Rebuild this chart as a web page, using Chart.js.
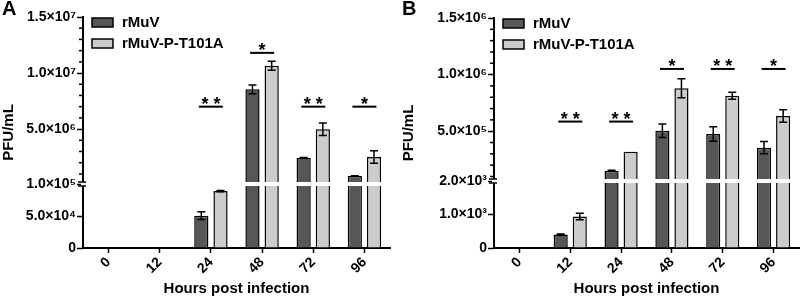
<!DOCTYPE html>
<html lang="en">
<head>
  <meta charset="UTF-8">
  <title>rMuV vs rMuV-P-T101A growth</title>
  <script src="https://cdn.jsdelivr.net/npm/chart.js"></script>
  <style>
    body { margin: 0; background: #fff; }
    .wrap { display: flex; width: 800px; height: 300px; }
    .panel { position: relative; width: 400px; height: 300px; }
  </style>
</head>
<body>
  <div class="wrap">
    <div class="panel"><canvas id="chartA" width="400" height="300"></canvas></div>
    <div class="panel"><canvas id="chartB" width="400" height="300"></canvas></div>
  </div>

  <script>
    // ---- data ----
    const hours = ['0', '12', '24', '48', '72', '96'];
    const seriesNames = ['rMuV', 'rMuV-P-T101A'];

    // panel A
    const aWt     = [0, 0, 5.05e4, 8.55e6, 2.42e6, 8.1e5];
    const aWtErr  = [0, 0, 6e3, 3.9e5, 5e4, 2e4];
    const aMut    = [0, 0, 8.9e4, 1.066e7, 4.98e6, 2.51e6];
    const aMutErr = [0, 0, 1e3, 4e5, 5.6e5, 5.6e5];
    const aSigY   = [null, null, 7.0e6, 1.18e7, 7.0e6, 7.0e6];
    const aSig    = ['', '', '**', '*', '**', '*'];
    const aLowTicks  = [0, 5e4, 1e5];
    const aLowLabels = ['0', '5.0×10⁴', '1.0×10⁵'];
    const aHighTicks  = [5e6, 1e7, 1.5e7];
    const aHighLabels = ['5.0×10⁶', '1.0×10⁷', '1.5×10⁷'];
    const aHighMinor  = [1e6, 2e6, 3e6, 4e6, 6e6, 7e6, 8e6, 9e6, 1.1e7, 1.2e7, 1.3e7, 1.4e7];

    // panel B
    const bWt     = [0, 4e2, 1.51e5, 5.04e5, 4.75e5, 3.54e5];
    const bWtErr  = [0, 20, 4e3, 5.9e4, 6.4e4, 5.4e4];
    const bMut    = [0, 9.4e2, 3.19e5, 8.79e5, 8.14e5, 6.34e5];
    const bMutErr = [0, 1e2, 0, 8.4e4, 3.1e4, 5.6e4];
    const bSigY   = [null, 5.85e5, 5.85e5, 1.05e6, 1.05e6, 1.05e6];
    const bSig    = ['', '**', '**', '*', '**', '*'];
    const bLowTicks  = [0, 1e3, 2e3];
    const bLowLabels = ['0', '1.0×10³', '2.0×10³'];
    const bHighTicks  = [5e5, 1e6, 1.5e6];
    const bHighLabels = ['5.0×10⁵', '1.0×10⁶', '1.5×10⁶'];
    const bHighMinor  = [1e5, 2e5, 3e5, 4e5, 6e5, 7e5, 8e5, 9e5, 1.1e6, 1.2e6, 1.3e6, 1.4e6];

    const FONT = "'Liberation Sans', Arial, sans-serif";
    const DARK = '#575757';
    const LIGHT = '#cccccc';

    function buildPanel(id, p) {
      const lowPart = v => (v > 0 ? Math.min(v, p.lowMax) : null);
      const highPart = v => (v > p.lowMax ? v : null);
      const barStyle = { borderColor: '#000', borderWidth: 1.5, barPercentage: 0.74, categoryPercentage: 0.75 };

      // extra drawing: axis break, minor ticks, error bars, significance, legend, titles
      const extras = {
        id: 'extras' + id,
        afterDraw(chart) {
          const { ctx, chartArea: ca, scales: { x, yLow, yHigh } } = chart;
          const by = yLow.top;
          ctx.save();

          // minor ticks on the upper segment
          ctx.strokeStyle = '#000';
          ctx.lineWidth = 1.5;
          p.highMinor.forEach(v => {
            const yy = yHigh.getPixelForValue(v);
            ctx.beginPath(); ctx.moveTo(ca.left - 4, yy); ctx.lineTo(ca.left, yy); ctx.stroke();
          });

          // break stripe
          ctx.fillStyle = '#fff';
          ctx.fillRect(ca.left - 2, by - 2, ca.right - ca.left + 2, 4);
          [by - 2, by + 2].forEach(yy => {
            ctx.beginPath(); ctx.moveTo(ca.left - 5, yy); ctx.lineTo(ca.left + 3, yy); ctx.stroke();
          });

          // error bars
          const series = [[p.wt, p.wtErr], [p.mut, p.mutErr]];
          series.forEach(([vals, errs], s) => {
            vals.forEach((v, i) => {
              if (!v || !errs[i]) return;
              const high = v > p.lowMax;
              const sc = high ? yHigh : yLow;
              const bar = chart.getDatasetMeta((high ? 2 : 0) + s).data[i];
              const y1 = sc.getPixelForValue(v + errs[i]);
              const y2 = sc.getPixelForValue(v - errs[i]);
              ctx.beginPath();
              ctx.moveTo(bar.x, y1); ctx.lineTo(bar.x, y2);
              ctx.moveTo(bar.x - 4, y1); ctx.lineTo(bar.x + 4, y1);
              ctx.moveTo(bar.x - 4, y2); ctx.lineTo(bar.x + 4, y2);
              ctx.stroke();
            });
          });

          // significance lines and stars
          ctx.fillStyle = '#000';
          ctx.font = 'bold 18px ' + FONT;
          ctx.textAlign = 'center';
          ctx.textBaseline = 'alphabetic';
          p.sigY.forEach((v, i) => {
            if (v === null) return;
            const yy = yHigh.getPixelForValue(v);
            const cx = x.getPixelForValue(i);
            ctx.lineWidth = 2;
            ctx.beginPath(); ctx.moveTo(cx - 12, yy); ctx.lineTo(cx + 12, yy); ctx.stroke();
            ctx.fillText(p.sig[i].split('').join(' '), cx, yy + 3);
          });

          // legend
          ctx.font = 'bold 15px ' + FONT;
          ctx.lineWidth = 1.5;
          ctx.textAlign = 'left';
          ctx.textBaseline = 'middle';
          [DARK, LIGHT].forEach((col, k) => {
            const bx = ca.left + 9, byy = ca.top + 1 + k * 21;
            ctx.fillStyle = col;
            ctx.fillRect(bx, byy, 21, 9);
            ctx.strokeRect(bx, byy, 21, 9);
            ctx.fillStyle = '#000';
            ctx.fillText(seriesNames[k], bx + 30, byy + 5);
          });

          // y title
          ctx.save();
          ctx.translate(9, (ca.top + ca.bottom) / 2);
          ctx.rotate(-Math.PI / 2);
          ctx.textAlign = 'center';
          ctx.fillText('PFU/mL', 0, 0);
          ctx.restore();

          // panel letter
          ctx.font = 'bold 20px ' + FONT;
          ctx.textAlign = 'left';
          ctx.textBaseline = 'top';
          ctx.fillText(p.letter, 2, -1);
          ctx.restore();
        }
      };

      const yCommon = {
        type: 'linear',
        position: 'left',
        stack: 'y',
        stacked: false,
        grid: { drawOnChartArea: false, tickLength: 6, tickWidth: 1.5, tickColor: '#000' },
        border: { color: '#000', width: 2 },
        afterFit(s) { s.width = p.axisW; }
      };
      const tickFont = { family: FONT, size: 14, weight: 'bold' };

      return new Chart(document.getElementById(id), {
        type: 'bar',
        data: {
          labels: hours,
          datasets: [
            { label: seriesNames[0], data: p.wt.map(lowPart), yAxisID: 'yLow', stack: 'wt', backgroundColor: DARK, ...barStyle },
            { label: seriesNames[1], data: p.mut.map(lowPart), yAxisID: 'yLow', stack: 'mut', backgroundColor: LIGHT, ...barStyle },
            { label: seriesNames[0], data: p.wt.map(highPart), yAxisID: 'yHigh', stack: 'wt', base: p.lowMax, backgroundColor: DARK, ...barStyle },
            { label: seriesNames[1], data: p.mut.map(highPart), yAxisID: 'yHigh', stack: 'mut', base: p.lowMax, backgroundColor: LIGHT, ...barStyle }
          ]
        },
        options: {
          responsive: false,
          animation: false,
          layout: { padding: { left: 0, right: p.padRight, top: p.padTop, bottom: 0 } },
          plugins: { legend: { display: false }, tooltip: { enabled: false } },
          scales: {
            x: {
              type: 'category',
              grid: { offset: false, drawOnChartArea: false, tickLength: 5, tickWidth: 1.5, tickColor: '#000' },
              border: { color: '#000', width: 2 },
              ticks: { color: '#000', font: tickFont, minRotation: 45, maxRotation: 45, padding: 1, autoSkip: false },
              title: {
                display: true, text: 'Hours post infection', color: '#000',
                font: { family: FONT, size: 15, weight: 'bold' }, padding: { top: 0, bottom: 2 }
              },
              afterFit(s) { s.height = 52; }
            },
            yLow: {
              ...yCommon,
              stackWeight: p.lowWeight,
              min: 0,
              max: p.lowMax,
              afterBuildTicks(s) { s.ticks = p.lowTicks.map(v => ({ value: v })); },
              ticks: { color: '#000', font: tickFont, padding: 1, autoSkip: false, callback: (v, i) => p.lowLabels[i] }
            },
            yHigh: {
              ...yCommon,
              stackWeight: p.highWeight,
              min: p.highMin,
              max: p.highMax,
              afterBuildTicks(s) { s.ticks = p.highTicks.map(v => ({ value: v })); },
              ticks: { color: '#000', font: tickFont, padding: 1, autoSkip: false, callback: (v, i) => p.highLabels[i] }
            }
          }
        },
        plugins: [extras]
      });
    }

    buildPanel('chartA', {
      letter: 'A', wt: aWt, wtErr: aWtErr, mut: aMut, mutErr: aMutErr, sigY: aSigY, sig: aSig,
      lowTicks: aLowTicks, lowLabels: aLowLabels, highTicks: aHighTicks, highLabels: aHighLabels, highMinor: aHighMinor,
      lowMax: 1e5, highMin: 1e5, highMax: 1.5e7, lowWeight: 64, highWeight: 167,
      axisW: 83, padRight: 10, padTop: 17
    });

    buildPanel('chartB', {
      letter: 'B', wt: bWt, wtErr: bWtErr, mut: bMut, mutErr: bMutErr, sigY: bSigY, sig: bSig,
      lowTicks: bLowTicks, lowLabels: bLowLabels, highTicks: bHighTicks, highLabels: bHighLabels, highMinor: bHighMinor,
      lowMax: 2e3, highMin: 6e4, highMax: 1.5e6, lowWeight: 67, highWeight: 163,
      axisW: 94, padRight: 1, padTop: 18
    });
  </script>
</body>
</html>
